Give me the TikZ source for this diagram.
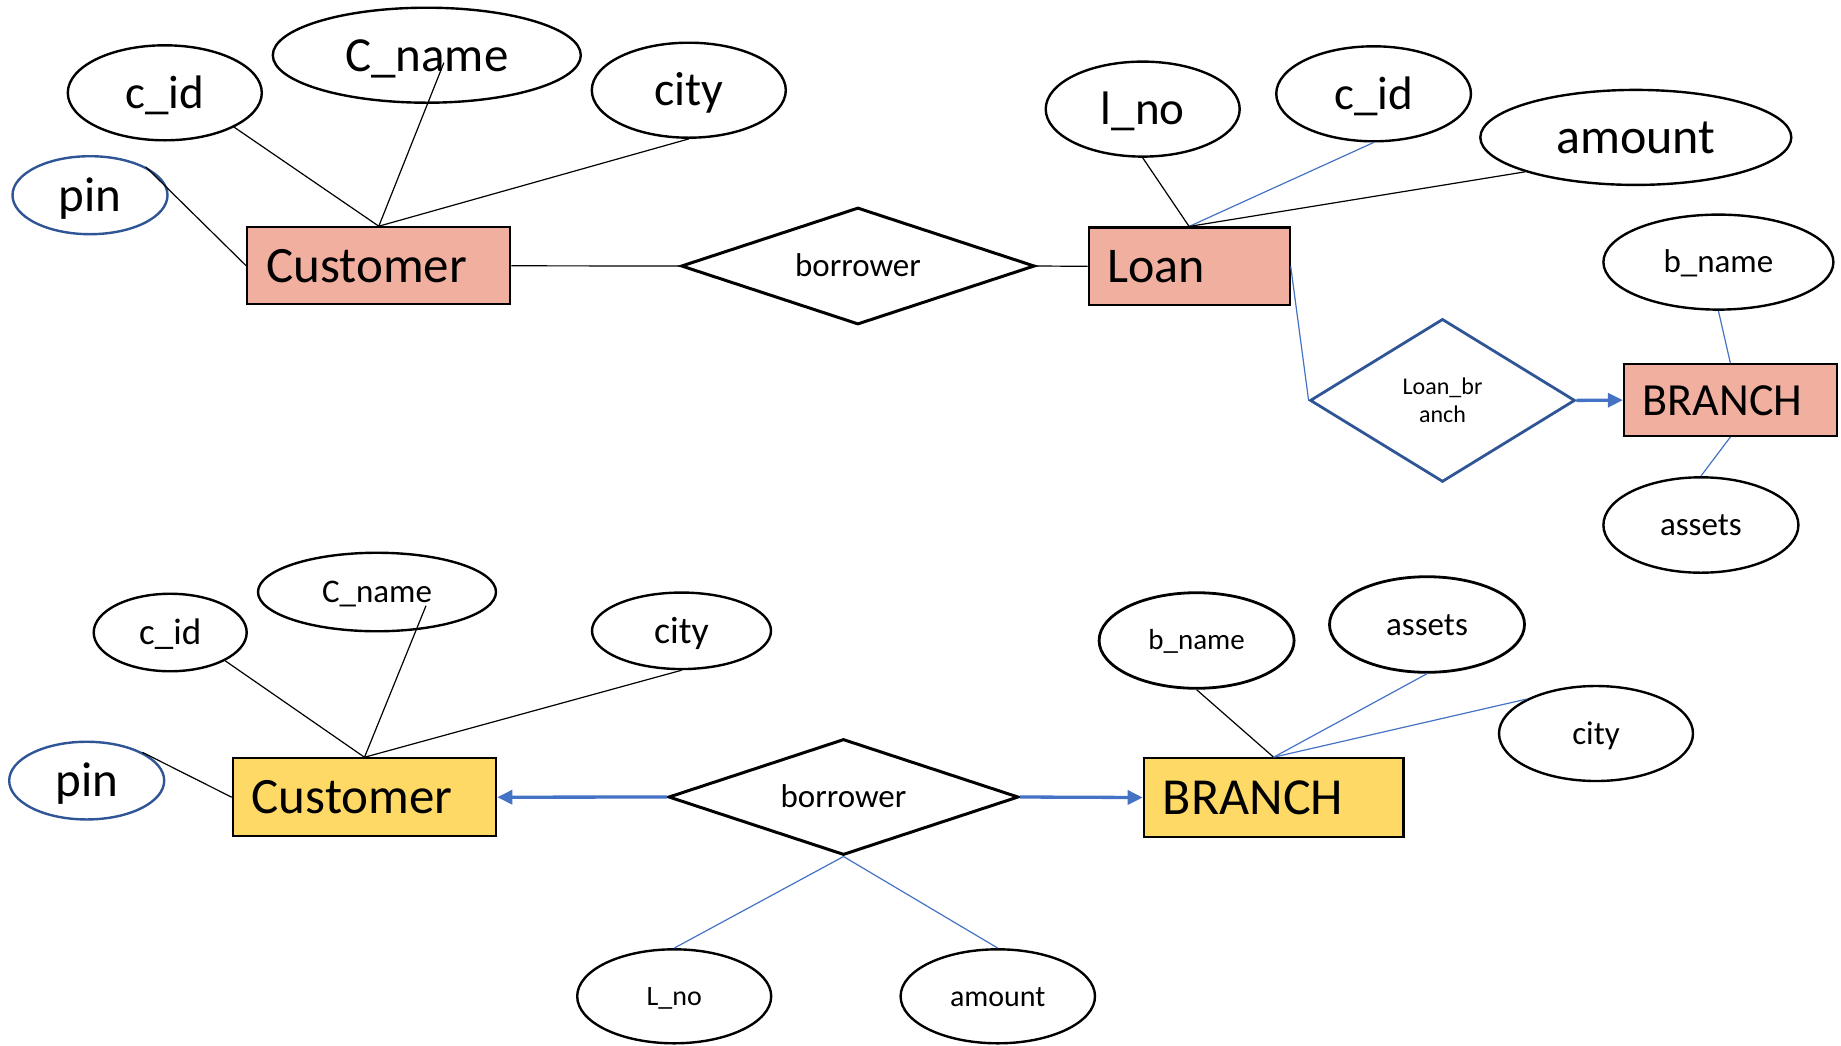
\documentclass[tikz,border=0pt]{standalone}
\usepackage{fontspec}
\setmainfont{Carlito}
\usetikzlibrary{shapes.geometric,arrows.meta}
\definecolor{entpink}{RGB}{241,175,159}
\definecolor{entgold}{RGB}{255,217,102}
\definecolor{linkblue}{RGB}{68,114,196}
\definecolor{deepblue}{RGB}{47,85,151}
\begin{document}
\begin{tikzpicture}[x=1pt,y=-1pt,
  fs/.style={font=\fontsize{#1}{#1}\selectfont, text height={0.65*#1pt}, text depth=0pt},
  sz/.style 2 args={minimum width=#1pt, minimum height=#2pt},
  attr/.style={ellipse, draw, line width=2.4pt, fill=white, inner sep=0pt},
  ent/.style={rectangle, draw, line width=2.2pt, inner xsep=19pt, inner ysep=0pt, align=left, text width=#1pt},
  rel/.style={diamond, draw, line width=3pt, fill=white, inner sep=0pt, aspect=3},
  wire/.style={line width=1.2pt},
  bwire/.style={line width=1.2pt, draw=linkblue},
  barrow/.style={line width=3.3pt, draw=linkblue, -{Triangle[length=15pt,width=14pt]}}
]
\useasboundingbox (0,0) rectangle (1841,1045);

% ---------- Customer -- borrower -- Loan -- Loan_branch -- BRANCH ----------
\node[attr, sz={194}{95}, fs=47] (cidA) at (164.8,92.8) {c\_id};
\node[attr, sz={308}{95}, fs=49] (cnameA) at (426.8,55.2) {C\_name};
\node[attr, sz={194}{95}, fs=48] (cityA) at (688.8,90.2) {city};
\node[attr, draw=deepblue, sz={155}{78}, fs=49] (pinA) at (90,195.2) {pin};
\node[ent=225, fill=entpink, sz={263}{77}, fs=51] (custA) at (378.8,265.8) {Customer};
\node[rel, sz={353.5}{117}, fs=33] (borrowA) at (857.9,266) {borrower};
\node[ent=163, fill=entpink, sz={201}{77.5}, fs=50] (loan) at (1189.1,266.3) {Loan};
\node[attr, sz={194}{95}, fs=47] (lnoA) at (1142.7,109.1) {l\_no};
\node[attr, sz={194.7}{95}, fs=47] (cidB) at (1373.6,93.8) {c\_id};
\node[attr, sz={311}{95}, fs=50] (amountA) at (1635.8,137.4) {amount};
\node[rel, aspect=1.6, draw=deepblue, line width=2.8pt, sz={265}{163}, align=center,
      font=\fontsize{24}{28.3}\selectfont] (loanbr) at (1442.5,400.4) {Loan\_br\\anch};
\node[ent=175, fill=entpink, sz={213}{71.5}, fs=46] (branchA) at (1730.4,400.1) {BRANCH};
\node[attr, sz={230}{95}, fs=33] (bnameA) at (1718.4,262.1) {b\_name};
\node[attr, sz={195}{95.4}, fs=33] (assetsA) at (1700.9,525) {assets};

\coordinate (cnameAtip) at (443.9,62.7);

\draw[wire] (cidA.south east) -- (custA.north);
\draw[wire] (cnameAtip) -- (custA.north);
\draw[wire] (cityA.south) -- (custA.north);
\draw[wire] (pinA.north east) -- (custA.west);
\draw[wire] (custA.east) -- (borrowA.west);
\draw[wire] (borrowA.east) -- (loan.west);
\draw[wire] (lnoA.south) -- (loan.north);
\draw[bwire] (cidB.south) -- (loan.north);
\draw[wire] (amountA.south west) -- (loan.north);
\draw[bwire] (loan.east) -- (loanbr.west);
\draw[barrow] (loanbr.east) -- (branchA.west);
\draw[bwire] (bnameA.south) -- (branchA.north);
\draw[bwire] (branchA.south) -- (assetsA.north);

% ---------- Customer <- borrower -> BRANCH ----------
\node[attr, sz={153}{77.5}, fs=37] (cidC) at (170.2,632.5) {c\_id};
\node[attr, sz={238}{78.5}, fs=33] (cnameB) at (377,592) {C\_name};
\node[attr, sz={179}{76.5}, fs=38] (cityB) at (681.5,630.8) {city};
\node[attr, draw=deepblue, sz={155}{77.7}, fs=49] (pinB) at (86.7,780.6) {pin};
\node[ent=225.4, fill=entgold, sz={263.4}{77.7}, fs=51] (custB) at (364.5,797.2) {Customer};
\node[rel, sz={350}{116}, fs=33] (borrowB) at (843.5,797) {borrower};
\node[ent=221.6, fill=entgold, sz={259.6}{78.4}, fs=52] (branchB) at (1273.6,797.5) {BRANCH};
\node[attr, line width=2.8pt, sz={195}{95.6}, fs=29] (bnameB) at (1196.6,640.5) {b\_name};
\node[attr, line width=2.8pt, sz={195}{95.6}, fs=33] (assetsB) at (1427,624.5) {assets};
\node[attr, sz={194}{95}, fs=33] (cityC) at (1596,733.5) {city};
\node[attr, sz={194}{94}, fs=28] (lnoB) at (674.2,996.3) {L\_no};
\node[attr, sz={194.4}{94}, fs=30] (amountB) at (997.8,996.3) {amount};

\coordinate (cnameBtip) at (426,605.7);

\draw[wire] (cidC.south east) -- (custB.north);
\draw[wire] (cnameBtip) -- (custB.north);
\draw[wire] (cityB.south) -- (custB.north);
\draw[wire] (pinB.north east) -- (custB.west);
\draw[barrow] (borrowB.west) -- (custB.east);
\draw[barrow] (borrowB.east) -- (branchB.west);
\draw[wire] (bnameB.south) -- (branchB.north);
\draw[bwire] (assetsB.south) -- (branchB.north);
\draw[bwire] (cityC.north west) -- (branchB.north);
\draw[bwire] (borrowB.south) -- (lnoB.north);
\draw[bwire] (borrowB.south) -- (amountB.north);
\end{tikzpicture}
\end{document}
